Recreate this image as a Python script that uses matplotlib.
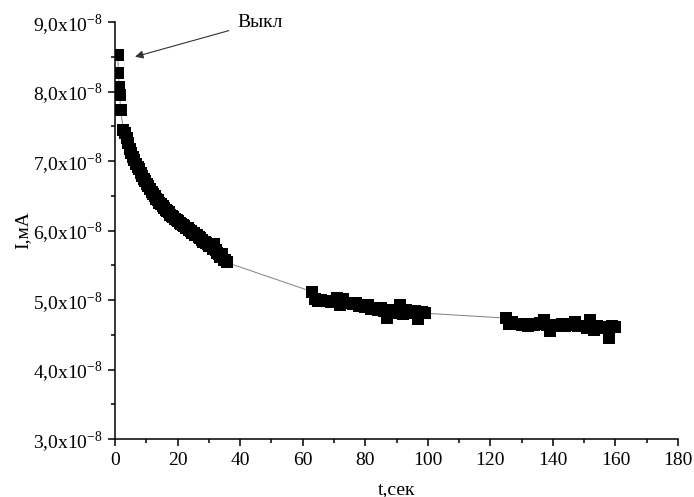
import numpy as np
import matplotlib.pyplot as plt
from matplotlib.ticker import MultipleLocator, FuncFormatter

plt.rcParams['font.family'] = ['Liberation Serif', 'DejaVu Serif']
plt.rcParams['mathtext.fontset'] = 'custom'
plt.rcParams['mathtext.rm'] = 'Liberation Serif'

# время, с  /  ток, в единицах 1e-8 мА
t1 = [0.9, 1.1, 1.3, 1.5, 1.8, 2.7, 3.2, 3.7, 4.2, 4.7, 5.2, 5.7, 6.2, 6.7, 7.2,
      7.7, 8.2, 8.7, 9.2, 9.7, 10.2, 10.7, 11.2, 11.7, 12.2, 12.7, 13.2, 13.7,
      14.2, 14.7, 15.2, 15.7, 16.2, 16.7, 17.2, 17.7, 18.2, 18.7, 19.2, 19.7,
      20.2, 20.7, 21.2, 21.7, 22.2, 22.7, 23.2, 23.7, 24.2, 24.7, 25.2, 25.7,
      26.2, 26.7, 27.2, 27.7, 28.2, 28.7, 29.2, 29.7, 30.2, 30.7, 31.2, 31.7,
      32.2, 32.7, 33.2, 33.7, 34.2, 34.7, 35.2, 35.7]
i1 = [8.53, 8.27, 8.06, 7.95, 7.73, 7.45, 7.40, 7.33, 7.26, 7.18, 7.12, 7.06,
      7.01, 6.96, 6.92, 6.88, 6.83, 6.79, 6.74, 6.71, 6.67, 6.64, 6.60, 6.56,
      6.53, 6.49, 6.46, 6.44, 6.40, 6.38, 6.35, 6.33, 6.30, 6.28, 6.26, 6.23,
      6.21, 6.19, 6.17, 6.15, 6.14, 6.11, 6.10, 6.08, 6.06, 6.04, 6.03, 6.01,
      5.99, 5.97, 5.96, 5.94, 5.93, 5.91, 5.89, 5.87, 5.84, 5.83, 5.82, 5.80,
      5.78, 5.77, 5.74, 5.80, 5.72, 5.68, 5.66, 5.62, 5.66, 5.58, 5.57, 5.54]

t2 = list(range(63, 100))
i2 = [5.12, 5.01, 4.99, 5.00, 4.98, 4.99, 4.97, 4.98, 5.03, 4.93, 5.01, 4.96,
      4.95, 4.94, 4.96, 4.92, 4.93, 4.90, 4.93, 4.87, 4.89, 4.85, 4.88, 4.84,
      4.74, 4.86, 4.82, 4.85, 4.93, 4.80, 4.86, 4.83, 4.82, 4.84, 4.72, 4.83,
      4.81]

t3 = list(range(125, 161))
i3 = [4.74, 4.66, 4.68, 4.65, 4.66, 4.64, 4.65, 4.63, 4.66, 4.64, 4.65, 4.67,
      4.71, 4.64, 4.56, 4.62, 4.64, 4.63, 4.65, 4.62, 4.64, 4.66, 4.68, 4.63,
      4.62, 4.63, 4.60, 4.71, 4.57, 4.62, 4.60, 4.61, 4.59, 4.45, 4.63, 4.61]

t = np.array(t1 + t2 + t3, dtype=float)
I = np.array(i1 + i2 + i3) * 1e-8

fig = plt.figure(figsize=(6.94, 4.97), dpi=100)
ax = fig.add_axes([0.1657, 0.1167, 0.8113, 0.839])

ax.plot(t, I, '-', color='#808080', lw=0.7, zorder=1)
ax.plot(t, I, 's', color='black', markersize=8.2, markeredgewidth=0, zorder=2)

ax.annotate('Выкл', xy=(6.4, 8.50e-8), xytext=(39, 9.0e-8),
            fontsize=14, va='center', ha='left',
            arrowprops=dict(arrowstyle='-|>', color='#333333', lw=0.8,
                            mutation_scale=12, shrinkA=4, shrinkB=0))

ax.set_xlim(0, 180)
ax.set_ylim(3e-8, 9e-8)
ax.xaxis.set_major_locator(MultipleLocator(20))
ax.xaxis.set_minor_locator(MultipleLocator(10))
ax.yaxis.set_major_locator(MultipleLocator(1e-8))
ax.yaxis.set_minor_locator(MultipleLocator(0.5e-8))
ax.yaxis.set_major_formatter(FuncFormatter(
    lambda v, p: f'{v / 1e-8:.1f}'.replace('.', ',') + r'x10$^{\mathregular{-8}}$'))

for s in ['top', 'right']:
    ax.spines[s].set_visible(False)
for s in ['left', 'bottom']:
    ax.spines[s].set_linewidth(1.1)

ax.tick_params(which='major', direction='out', length=5, width=1.1,
               labelsize=14, pad=4)
ax.tick_params(which='minor', direction='out', length=3, width=1.1)

ax.set_xlabel('t,сек', fontsize=14, labelpad=9)
ax.set_ylabel('I,мА', fontsize=14, labelpad=1)

plt.savefig('out.png', dpi=100)
plt.close()
